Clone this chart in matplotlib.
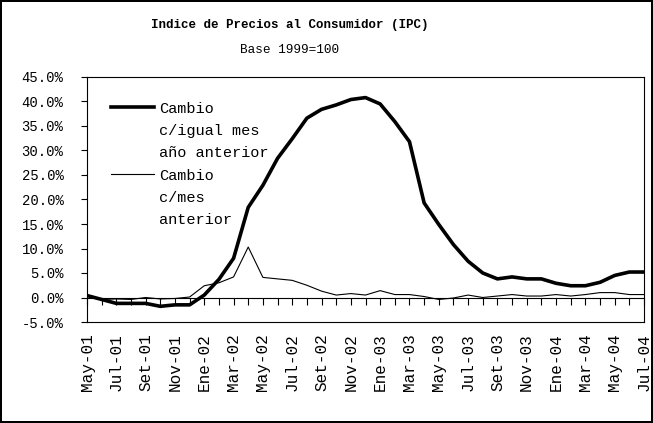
import matplotlib
matplotlib.use("Agg")
import matplotlib.pyplot as plt
from matplotlib.offsetbox import HPacker

# Months shown on the category axis (May-01 .. Jul-04)
months = ["May-01", "Jun-01", "Jul-01", "Ago-01", "Set-01", "Oct-01", "Nov-01", "Dic-01",
          "Ene-02", "Feb-02", "Mar-02", "Abr-02", "May-02", "Jun-02", "Jul-02", "Ago-02",
          "Set-02", "Oct-02", "Nov-02", "Dic-02",
          "Ene-03", "Feb-03", "Mar-03", "Abr-03", "May-03", "Jun-03", "Jul-03", "Ago-03",
          "Set-03", "Oct-03", "Nov-03", "Dic-03",
          "Ene-04", "Feb-04", "Mar-04", "Abr-04", "May-04", "Jun-04", "Jul-04"]

# Change vs same month of previous year (%)
anual = [0.4, -0.4, -1.2, -1.2, -1.2, -1.8, -1.5, -1.5,
         0.5, 3.7, 8.0, 18.4, 22.9, 28.4, 32.4, 36.6,
         38.4, 39.3, 40.4, 40.8, 39.5, 35.9, 31.8, 19.3,
         14.9, 10.8, 7.4, 5.0, 3.8, 4.2, 3.8, 3.8,
         2.9, 2.4, 2.4, 3.1, 4.5, 5.2, 5.2]

# Change vs previous month (%)
mensual = [0.3, -0.4, -0.3, -0.4, 0.0, -0.3, -0.2, 0.1,
           2.4, 3.0, 4.2, 10.3, 4.1, 3.8, 3.5, 2.5,
           1.3, 0.5, 0.8, 0.5, 1.4, 0.6, 0.6, 0.2,
           -0.4, -0.1, 0.5, 0.0, 0.3, 0.6, 0.3, 0.3,
           0.6, 0.3, 0.6, 1.0, 1.0, 0.6, 0.6]

labels = ["Cambio\nc/igual mes\naño anterior", "Cambio\nc/mes\nanterior"]

mono = "Liberation Mono"

fig = plt.figure(figsize=(6.53, 4.23), dpi=100)
fig.patch.set_edgecolor("black")
fig.patch.set_linewidth(1.5)

ax = fig.add_axes([87/653, 1 - 322/423, (644 - 87)/653, (322 - 77)/423])

x = list(range(len(months)))
ax.plot(x, anual, color="black", linewidth=2.6, label=labels[0])
ax.plot(x, mensual, color="black", linewidth=0.8, label=labels[1])

ax.set_xlim(0, len(months) - 1)
ax.set_ylim(-5, 45)

# y axis as percentages
yt = list(range(-5, 50, 5))
ax.set_yticks(yt)
ax.set_yticklabels([f"{v:.1f}%" for v in yt], fontfamily=mono, fontsize=10)
ax.tick_params(axis="y", direction="out", length=4, width=0.8, pad=13)

# category labels every two months at the bottom
ax.set_xticks(x[::2])
ax.set_xticklabels(months[::2], rotation=90, fontfamily=mono, fontsize=11.5)
ax.tick_params(axis="x", length=0, pad=8)

for s in ax.spines.values():
    s.set_linewidth(0.8)

# category axis line crossing at 0 with a tick every month
zero_ax = ax.secondary_xaxis(5 / 50)
zero_ax.set_xticks(x)
zero_ax.set_xticklabels([])
zero_ax.tick_params(direction="out", length=5, width=0.8)
zero_ax.spines["bottom"].set_linewidth(0.8)

leg = ax.legend(loc="upper left", bbox_to_anchor=(0.03, 0.93), frameon=False,
                prop={"family": mono, "size": 11}, handlelength=2.8,
                handletextpad=0.3, labelspacing=0.56, borderpad=0)
for t in leg.get_texts():
    t.set_linespacing(1.75)
# put the line next to the first text line, like the original
for p in leg.findobj(HPacker):
    p.align = "top"

fig.text(290/653, 1 - 25/423, "Indice de Precios al Consumidor (IPC)", ha="center",
         va="center", fontfamily=mono, fontsize=9, fontweight="bold")
fig.text(290/653, 1 - 50/423, "Base 1999=100", ha="center", va="center",
         fontfamily=mono, fontsize=9.2)

fig.savefig("out.png", dpi=100)
